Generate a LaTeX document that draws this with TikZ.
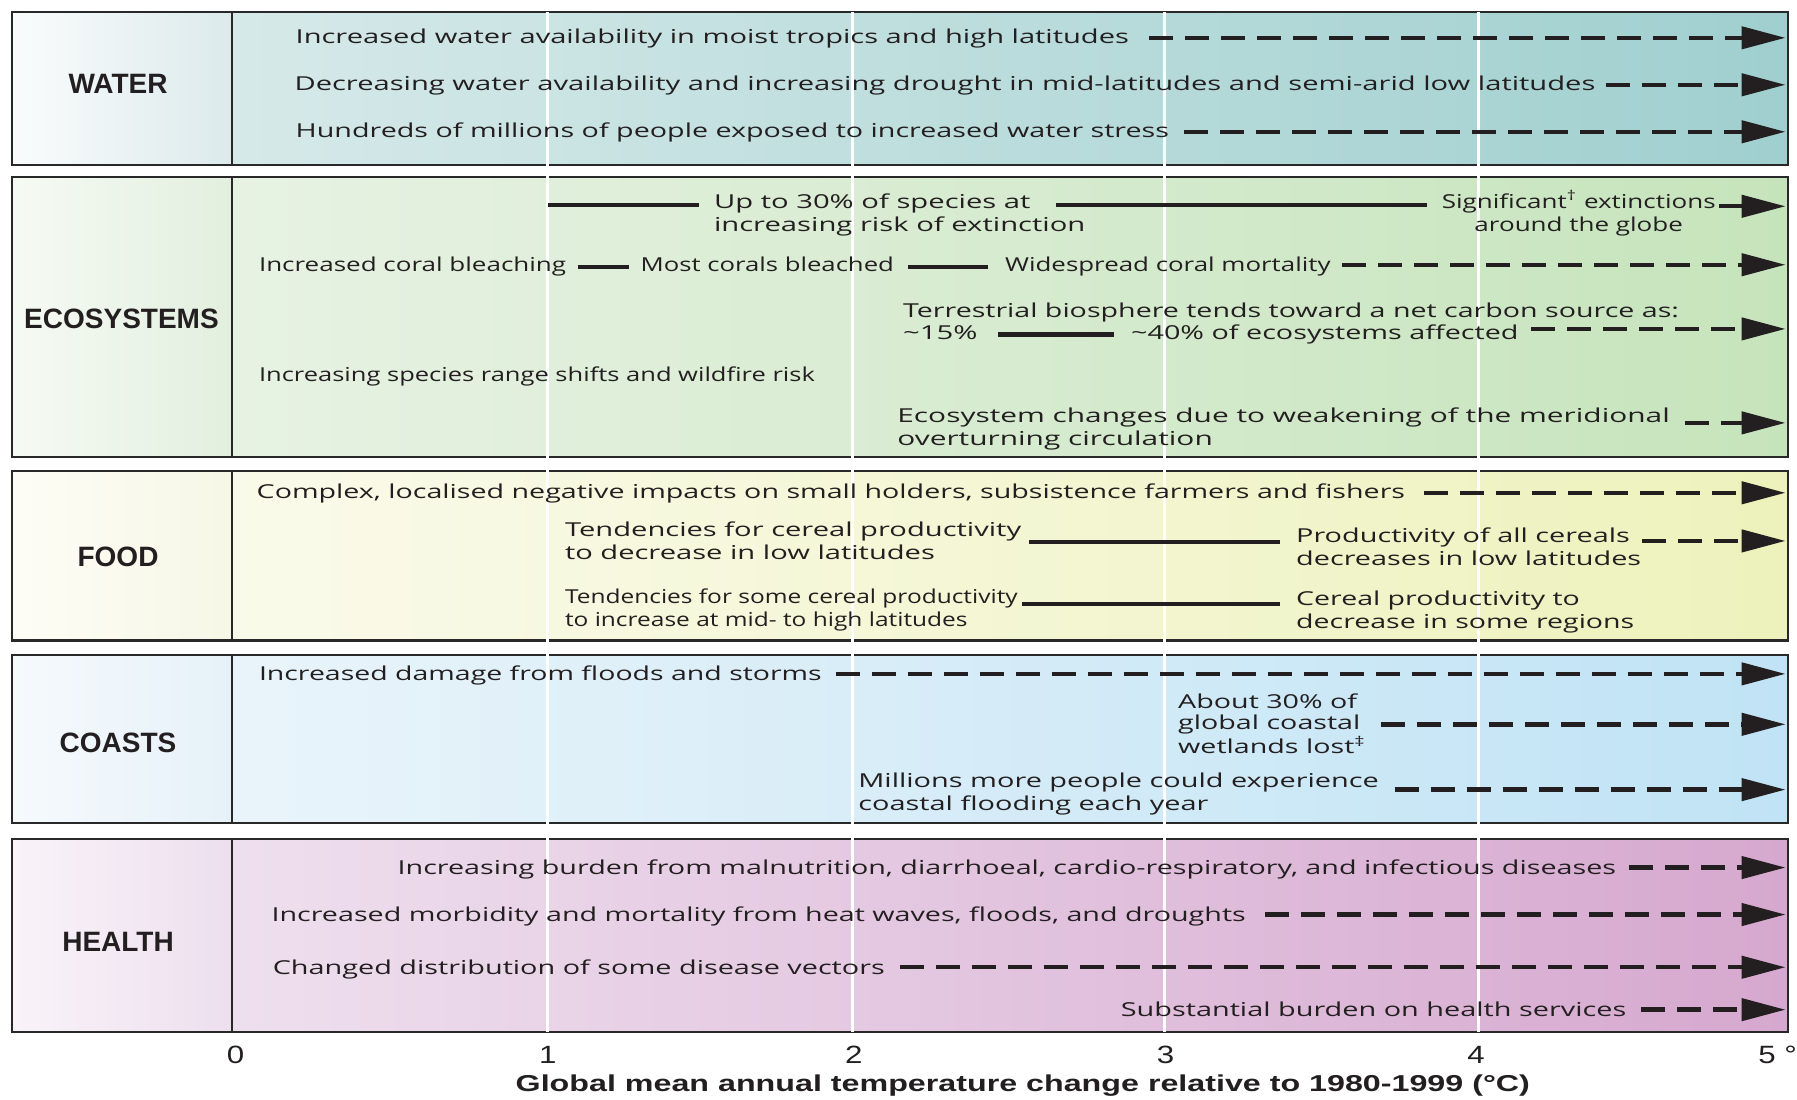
\documentclass[tikz,border=0pt]{standalone}
\usepackage{fontspec}
\setmainfont{Open Sans}
\newfontfamily\arialf{Liberation Sans}
\usepackage{graphicx}
\usetikzlibrary{arrows.meta}
\newlength\pxu
\setlength\pxu{0.573pt}
\newcommand\fitw[3][l]{\resizebox{#2\pxu}{\height}{\begin{tabular}{@{}#1@{}}#3\end{tabular}}}
\newcommand\wnum[1]{\scalebox{1.25}[1]{#1}}
\definecolor{tcol}{RGB}{35,31,32}
\definecolor{bcol}{RGB}{40,40,40}
\definecolor{wl1}{RGB}{250,252,252}\definecolor{wl2}{RGB}{220,234,236}
\definecolor{wc1}{RGB}{214,233,233}\definecolor{wc2}{RGB}{160,207,207}
\definecolor{el1}{RGB}{246,250,244}\definecolor{el2}{RGB}{226,239,222}
\definecolor{ec1}{RGB}{231,242,227}\definecolor{ec2}{RGB}{198,228,188}
\definecolor{fl1}{RGB}{253,253,246}\definecolor{fl2}{RGB}{246,247,230}
\definecolor{fc1}{RGB}{250,250,234}\definecolor{fc2}{RGB}{237,242,188}
\definecolor{cl1}{RGB}{246,250,253}\definecolor{cl2}{RGB}{229,241,248}
\definecolor{cc1}{RGB}{233,244,250}\definecolor{cc2}{RGB}{192,227,245}
\definecolor{hl1}{RGB}{249,243,249}\definecolor{hl2}{RGB}{237,223,238}
\definecolor{hc1}{RGB}{238,223,238}\definecolor{hc2}{RGB}{214,168,207}
\newcommand\bandbg[6]{%
  \shade[left color=#3,right color=#4] (10.5,#1) rectangle (202.5,#2);
  \shade[left color=#5,right color=#6] (202.5,#1) rectangle (1560,#2);
  \draw[bandline] (10.5,#1) rectangle (1560,#2);
  \draw[bandline] (202.5,#1) -- (202.5,#2);}
\begin{document}
\begin{tikzpicture}[x=0.573pt,y=-0.573pt,
  txt/.style={inner sep=0pt,outer sep=0pt,anchor=west,text=tcol,font=\fontsize{9.6}{11.5}\selectfont},
  lab/.style={inner sep=0pt,text=tcol,font=\arialf\bfseries\fontsize{14}{16}\selectfont},
  axnum/.style={inner sep=0pt,text=tcol,font=\arialf\fontsize{12.5}{14}\selectfont},
  conn/.style={draw=tcol,line width=2.2pt},
  tip/.style={-{Triangle[length=22pt,width=11pt]}},
  dconn/.style={conn,tip,dash pattern=on 12pt off 6pt},
  aconn/.style={conn,tip},
  bandline/.style={draw=bcol,line width=1.2pt},
  gridline/.style={draw=white,line width=1.5pt}]
\fill[white] (0,0) rectangle (1568,959);
\useasboundingbox (0,0) rectangle (1568,959);
% bands
\bandbg{10.5}{144}{wl1}{wl2}{wc1}{wc2}
\bandbg{154.5}{399}{el1}{el2}{ec1}{ec2}
\bandbg{411}{559}{fl1}{fl2}{fc1}{fc2}
\bandbg{571.5}{718}{cl1}{cl2}{cc1}{cc2}
\bandbg{732}{900.5}{hl1}{hl2}{hc1}{hc2}
% grid lines
\foreach \gx in {478,743.5,1016.5,1290} \draw[gridline] (\gx,10.5) -- (\gx,900.5);
% labels
\node[lab] (lw) at (103,73) {WATER};
\node[lab] (le) at (106,278) {ECOSYSTEMS};
\node[lab] (lf) at (103,486) {FOOD};
\node[lab] (lc) at (103,648) {COASTS};
\node[lab] (lh) at (103,822) {HEALTH};
% WATER
\node[txt] (W1) at (258,34) {\fitw{727}{Increased water availability in moist tropics and high latitudes}};
\node[txt] (W2) at (257,75) {\fitw{1135}{Decreasing water availability and increasing drought in mid-latitudes and semi-arid low latitudes}};
\node[txt] (W3) at (258,116) {\fitw{762}{Hundreds of millions of people exposed to increased water stress}};
% ECOSYSTEMS
\node[txt] (E1a) at (623,188) {\fitw{324}{Up to 30\% of species at\\increasing risk of extinction}};
\node[txt] (E1b) at (1258,187) {\fitw[c]{239}{Significant\textsuperscript{†} extinctions\\around the globe}};
\node[txt] (E2a) at (226,233) {\fitw{268}{Increased coral bleaching}};
\node[txt] (E2b) at (559,233) {\fitw{221}{Most corals bleached}};
\node[txt] (E2c) at (877,233) {\fitw{284}{Widespread coral mortality}};
\node[txt] (E3a) at (788,273) {\fitw{677}{Terrestrial biosphere tends toward a net carbon source as:}};
\node[txt] (E3b) at (788,292) {\fitw{65}{\textasciitilde15\%}};
\node[txt] (E3c) at (987,292) {\fitw{338}{\textasciitilde40\% of ecosystems affected}};
\node[txt] (E4) at (226,329) {\fitw{485}{Increasing species range shifts and wildfire risk}};
\node[txt] (E5) at (783,375) {\fitw{674}{Ecosystem changes due to weakening of the meridional\\overturning circulation}};
% FOOD
\node[txt] (F1) at (224,431) {\fitw{1002}{Complex, localised negative impacts on small holders, subsistence farmers and fishers}};
\node[txt] (F2a) at (493,474) {\fitw{398}{Tendencies for cereal productivity\\to decrease in low latitudes}};
\node[txt] (F2b) at (1131,479) {\fitw{301}{Productivity of all cereals\\decreases in low latitudes}};
\node[txt] (F3a) at (493,532.5) {\fitw{395}{Tendencies for some cereal productivity\\to increase at mid- to high latitudes}};
\node[txt] (F3b) at (1131,534) {\fitw{295}{Cereal productivity to\\decrease in some regions}};
% COASTS
\node[txt] (C1) at (226,590) {\fitw{491}{Increased damage from floods and storms}};
\node[txt,font=\fontsize{9.6}{10.6}\selectfont] (C2) at (1028,634) {\fitw{164}{About 30\% of\\global coastal\\wetlands lost\textsuperscript{‡}}};
\node[txt] (C3) at (749,693) {\fitw{454}{Millions more people could experience\\coastal flooding each year}};
% HEALTH
\node[txt] (H1) at (347,759) {\fitw{1063}{Increasing burden from malnutrition, diarrhoeal, cardio-respiratory, and infectious diseases}};
\node[txt] (H2) at (237,800) {\fitw{850}{Increased morbidity and mortality from heat waves, floods, and droughts}};
\node[txt] (H3) at (238,846) {\fitw{534}{Changed distribution of some disease vectors}};
\node[txt] (H4) at (978,883) {\fitw{441}{Substantial burden on health services}};
% end coordinates
\coordinate (rW1) at (1558,33);
\coordinate (rW2) at (1558,74);
\coordinate (rW3) at (1558,115);
\coordinate (g1) at (478,179);
\coordinate (s2) at (921,179);
\coordinate (rE1) at (1558,180);
\coordinate (rE2) at (1558,231);
\coordinate (rE3) at (1558,287);
\coordinate (rE5) at (1558,369);
\coordinate (rF1) at (1558,430);
\coordinate (sF2) at (898,473);
\coordinate (rF2) at (1558,472);
\coordinate (sF3) at (892,527);
\coordinate (rC1) at (1558,588);
\coordinate (rC2) at (1558,632);
\coordinate (rC3) at (1558,689);
\coordinate (rH1) at (1558,757);
\coordinate (rH2) at (1558,798);
\coordinate (rH3) at (1558,844);
\coordinate (rH4) at (1558,881);
% connectors
\draw[dconn,shorten <=10pt] (W1.east |- rW1) -- (rW1);
\draw[dconn,shorten <=5.5pt] (W2.east |- rW2) -- (rW2);
\draw[dconn,shorten <=7.5pt] (W3.east |- rW3) -- (rW3);
\draw[conn,shorten >=7.4pt] (g1) -- (E1a.west |- g1);
\draw[conn,shorten >=7.4pt] (s2) -- (E1b.west |- s2);
\draw[aconn,shorten <=1.7pt] (E1b.east |- rE1) -- (rE1);
\draw[conn,shorten <=5.7pt,shorten >=5.7pt] (E2a.east) -- (E2b.west);
\draw[conn,shorten <=6.9pt,shorten >=8.6pt] (E2b.east) -- (E2c.west);
\draw[dconn,shorten <=5.7pt] (E2c.east |- rE2) -- (rE2);
\draw[conn,shorten <=10.3pt,shorten >=8.6pt] (E3b.east) -- (E3c.west);
\draw[dconn,shorten <=6.3pt] (E3c.east |- rE3) -- (rE3);
\draw[dconn,shorten <=7.4pt] (E5.east |- rE5) -- (rE5);
\draw[dconn,shorten <=9.2pt] (F1.east |- rF1) -- (rF1);
\draw[conn,shorten >=8pt] (sF2) -- (F2b.west |- sF2);
\draw[dconn,shorten <=0.6pt] (F2b.east |- rF2) -- (rF2);
\draw[conn,shorten >=8pt] (sF3) -- (F3b.west |- sF3);
\draw[dconn,shorten <=6.9pt] (C1.east |- rC1) -- (rC1);
\draw[dconn,shorten <=7.4pt] (C2.east |- rC2) -- (rC2);
\draw[dconn,shorten <=8pt] (C3.east |- rC3) -- (rC3);
\draw[dconn,shorten <=6.3pt] (H1.east |- rH1) -- (rH1);
\draw[dconn,shorten <=9.7pt] (H2.east |- rH2) -- (rH2);
\draw[dconn,shorten <=7.4pt] (H3.east |- rH3) -- (rH3);
\draw[dconn,shorten <=7.4pt] (H4.east |- rH4) -- (rH4);
% axis
\node[axnum] (a0) at (205.5,920.5) {\wnum{0}};
\node[axnum] (a1) at (478,920.5) {\wnum{1}};
\node[axnum] (a2) at (745,920.5) {\wnum{2}};
\node[axnum] (a3) at (1017,920.5) {\wnum{3}};
\node[axnum] (a4) at (1288,920.5) {\wnum{4}};
\node[axnum,anchor=west] (a5) at (1534,920.5) {\wnum{5 °}};
\node[inner sep=0pt,text=tcol,font=\arialf\bfseries\fontsize{11.5}{13}\selectfont] (title) at (892.5,947.5)
  {\resizebox{885\pxu}{\height}{Global mean annual temperature change relative to 1980-1999 (°C)}};
\end{tikzpicture}
\end{document}
